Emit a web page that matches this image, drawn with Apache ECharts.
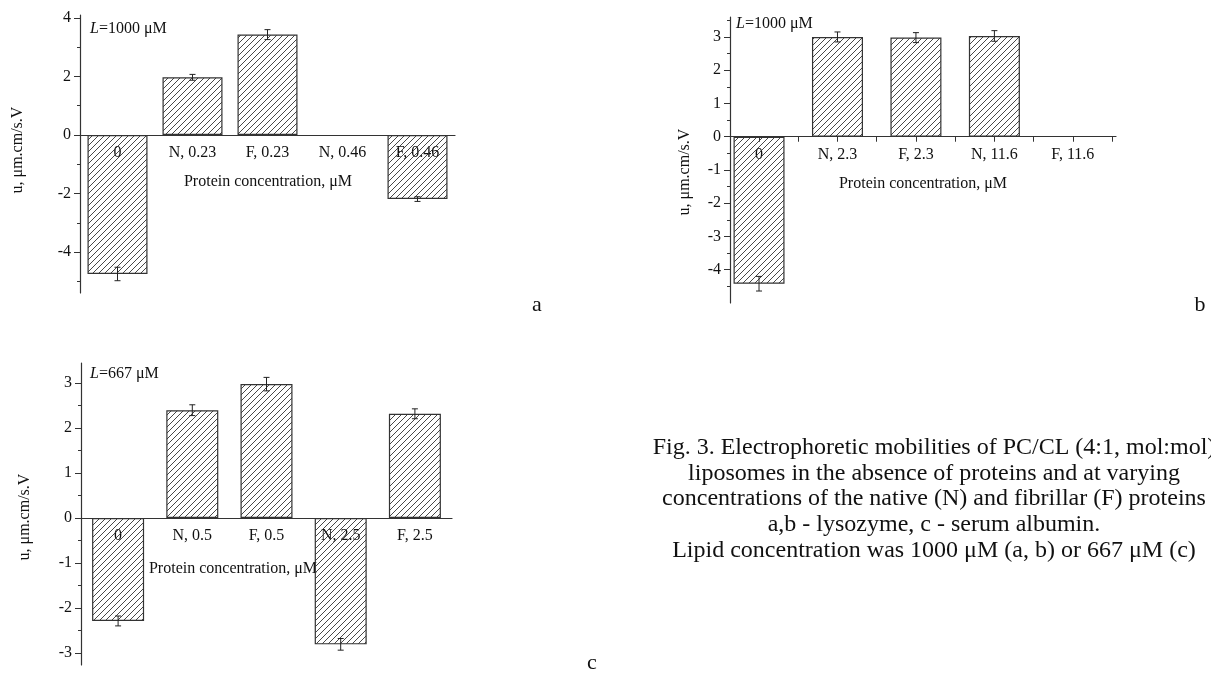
<!DOCTYPE html>
<html>
<head>
<meta charset="UTF-8">
<title>Fig. 3</title>
<script src="https://cdn.jsdelivr.net/npm/echarts@6/dist/echarts.min.js"></script>
<style>
  html, body { margin: 0; padding: 0; background: #fff; }
  #container { width: 1211px; height: 673px; }
</style>
</head>
<body>
<div id="container"></div>
<script type="text/javascript">
// panel a - lysozyme, L=1000 uM
var catsA = ['0', 'N, 0.23', 'F, 0.23', 'N, 0.46', 'F, 0.46'];
var valsA = [-4.75, 1.97, 3.43, null, -2.19];
var errsA = [0.23, 0.1, 0.17, null, 0.08];
// panel b - lysozyme, L=1000 uM
var catsB = ['0', 'N, 2.3', 'F, 2.3', 'N, 11.6', 'F, 11.6'];
var valsB = [-4.42, 3.0, 2.98, 3.03, null];
var errsB = [0.22, 0.15, 0.15, 0.16, null];
// panel c - serum albumin, L=667 uM
var catsC = ['0', 'N, 0.5', 'F, 0.5', 'N, 2.5', 'F, 2.5'];
var valsC = [-2.29, 2.4, 2.98, -2.81, 2.32];
var errsC = [0.11, 0.12, 0.15, 0.13, 0.11];

var ticksA = [-4, -2, 0, 2, 4];
var minorA = [-5, -3, -1, 1, 3];
var ticksB = [-4, -3, -2, -1, 0, 1, 2, 3];
var minorB = [-4.5, -3.5, -2.5, -1.5, -0.5, 0.5, 1.5, 2.5, 3.5];
var ticksC = [-3, -2, -1, 0, 1, 2, 3];
var minorC = [-2.5, -1.5, -0.5, 0.5, 1.5, 2.5];

var caption = [
  'Fig. 3. Electrophoretic mobilities of PC/CL (4:1, mol:mol)',
  'liposomes in the absence of proteins and at varying',
  'concentrations of the native (N) and fibrillar (F) proteins',
  'a,b - lysozyme, c - serum albumin.',
  'Lipid concentration was 1000 \u03bcM (a, b) or 667 \u03bcM (c)'
];

var FONT = '"Liberation Serif", "Times New Roman", serif';
var INK = '#222';

var dom = document.getElementById('container');
var myChart = echarts.init(dom, null, { renderer: 'canvas' });

// hatch fill "/" like the Origin pattern
function hatch() {
  var c = document.createElement('canvas');
  c.width = 6; c.height = 6;
  var g = c.getContext('2d');
  g.strokeStyle = '#333';
  g.lineWidth = 0.9;
  g.beginPath();
  g.moveTo(0, 6); g.lineTo(6, 0);
  g.moveTo(-1, 1); g.lineTo(1, -1);
  g.moveTo(5, 7); g.lineTo(7, 5);
  g.stroke();
  return c;
}
var fill = { image: hatch(), repeat: 'repeat' };

function errData(vals, errs, shift) {
  var out = [];
  for (var i = 0; i < vals.length; i++) {
    if (vals[i] != null) out.push([i + shift, vals[i], errs[i]]);
  }
  return out;
}
function barData(vals, shift) {
  return vals.map(function (v, i) { return shift ? [i + shift, v] : v; });
}

function renderErr(params, api) {
  var x = api.value(0), v = api.value(1), e = api.value(2);
  var hi = api.coord([x, v + e]);
  var lo = api.coord([x, v - e]);
  var w = 3;
  var st = { stroke: INK, lineWidth: 1 };
  return {
    type: 'group',
    children: [
      { type: 'line', shape: { x1: hi[0], y1: hi[1], x2: lo[0], y2: lo[1] }, style: st },
      { type: 'line', shape: { x1: hi[0] - w, y1: hi[1], x2: hi[0] + w, y2: hi[1] }, style: st },
      { type: 'line', shape: { x1: lo[0] - w, y1: lo[1], x2: lo[0] + w, y2: lo[1] }, style: st }
    ]
  };
}

var lineSt = { color: '#333', width: 1.2 };
var labelStyle = { color: '#111', fontFamily: FONT, fontSize: 16 };

function yAxes(grid, min, max, major, minor) {
  return [{
    type: 'value', gridIndex: grid, min: min, max: max, position: 'left',
    axisLine: { show: true, lineStyle: lineSt },
    axisTick: { show: true, length: 6, customValues: major, lineStyle: { color: '#333' } },
    axisLabel: Object.assign({ margin: 9, customValues: major }, labelStyle),
    splitLine: { show: false }
  }, {
    type: 'value', gridIndex: grid, min: min, max: max, position: 'left', offset: 0,
    axisLine: { show: false },
    axisTick: { show: true, length: 3, customValues: minor, lineStyle: { color: '#333' } },
    axisLabel: { show: false },
    splitLine: { show: false }
  }];
}

// x axis drawn at y = 0: shift it up from the grid bottom
function zeroOffset(h, min, max) {
  return -h * (0 - min) / (max - min);
}

function catX(grid, cats, off) {
  return {
    type: 'category', gridIndex: grid, data: cats, position: 'bottom', offset: off,
    axisLine: { onZero: false, lineStyle: lineSt },
    axisTick: { alignWithLabel: true, length: 5, lineStyle: { color: '#333' } },
    axisLabel: Object.assign({ margin: 10, interval: 0 }, labelStyle),
    splitLine: { show: false }
  };
}

var ticksXB = [];
for (var k = 1; k <= 5.5; k += 0.5) ticksXB.push(k);

function txt(x, y, s, size, extra) {
  return Object.assign({
    type: 'text', x: x, y: y,
    style: { text: s, fill: '#111', font: size + 'px ' + FONT, textAlign: 'center', textVerticalAlign: 'middle' }
  }, extra || {});
}
function yName(x, y) {
  return txt(x, y, 'u, \u03bcm.cm/s.V', 16, { rotation: Math.PI / 2 });
}
function lText(x, y, amount) {
  return {
    type: 'text', x: x, y: y,
    style: {
      text: '{i|L}=' + amount + ' \u03bcM',
      fill: '#111', font: '16px ' + FONT, textAlign: 'left', textVerticalAlign: 'middle',
      rich: { i: { fontStyle: 'italic', fontFamily: FONT, fontSize: 16 } }
    }
  };
}

var graphics = [
  yName(18, 150), yName(685, 172), yName(25, 517),
  txt(268, 182, 'Protein concentration, \u03bcM', 16),
  txt(923, 184, 'Protein concentration, \u03bcM', 16),
  txt(233, 569, 'Protein concentration, \u03bcM', 16),
  lText(90, 29, 1000), lText(736, 24, 1000), lText(90, 374, 667),
  txt(537, 305, 'a', 22), txt(1200, 305, 'b', 22), txt(592, 663, 'c', 22)
];
var capY = [448, 474, 499, 525, 551];
caption.forEach(function (line, i) {
  graphics.push(txt(934, capY[i], line, 24));
});

var barStyle = { color: fill, borderColor: '#333', borderWidth: 1.2 };

option = {
  animation: false,
  backgroundColor: '#fff',
  textStyle: { fontFamily: FONT },
  grid: [
    { left: 80, top: 15, width: 375, height: 278 },
    { left: 730, top: 17, width: 386, height: 286 },
    { left: 81, top: 363, width: 371, height: 302 }
  ],
  xAxis: [
    catX(0, catsA, zeroOffset(278, -5.4, 4.1)),
    {
      type: 'value', gridIndex: 1, min: 0.63, max: 5.55,
      position: 'bottom', offset: zeroOffset(286, -5.0, 3.6),
      axisLine: { onZero: false, lineStyle: lineSt },
      axisTick: { length: 5, customValues: ticksXB, lineStyle: { color: '#333' } },
      axisLabel: Object.assign({
        margin: 10, customValues: [1, 2, 3, 4, 5],
        formatter: function (v) { return catsB[Math.round(v) - 1]; }
      }, labelStyle),
      splitLine: { show: false }
    },
    catX(2, catsC, zeroOffset(302, -3.27, 3.45))
  ],
  yAxis: [].concat(
    yAxes(0, -5.4, 4.1, ticksA, minorA),
    yAxes(1, -5.0, 3.6, ticksB, minorB),
    yAxes(2, -3.27, 3.45, ticksC, minorC)
  ),
  series: [
    { type: 'bar', xAxisIndex: 0, yAxisIndex: 0, data: barData(valsA), barWidth: 60, itemStyle: barStyle },
    { type: 'custom', xAxisIndex: 0, yAxisIndex: 0, data: errData(valsA, errsA, 0), renderItem: renderErr, encode: { x: 0, y: 1 }, z: 5 },
    { type: 'bar', xAxisIndex: 1, yAxisIndex: 2, data: barData(valsB, 1), barWidth: 51, itemStyle: barStyle },
    { type: 'custom', xAxisIndex: 1, yAxisIndex: 2, data: errData(valsB, errsB, 1), renderItem: renderErr, encode: { x: 0, y: 1 }, z: 5 },
    { type: 'bar', xAxisIndex: 2, yAxisIndex: 4, data: barData(valsC), barWidth: 52, itemStyle: barStyle },
    { type: 'custom', xAxisIndex: 2, yAxisIndex: 4, data: errData(valsC, errsC, 0), renderItem: renderErr, encode: { x: 0, y: 1 }, z: 5 }
  ],
  graphic: graphics
};

if (option && typeof option === "object") {
  myChart.setOption(option, true);
}
</script>
</body>
</html>
